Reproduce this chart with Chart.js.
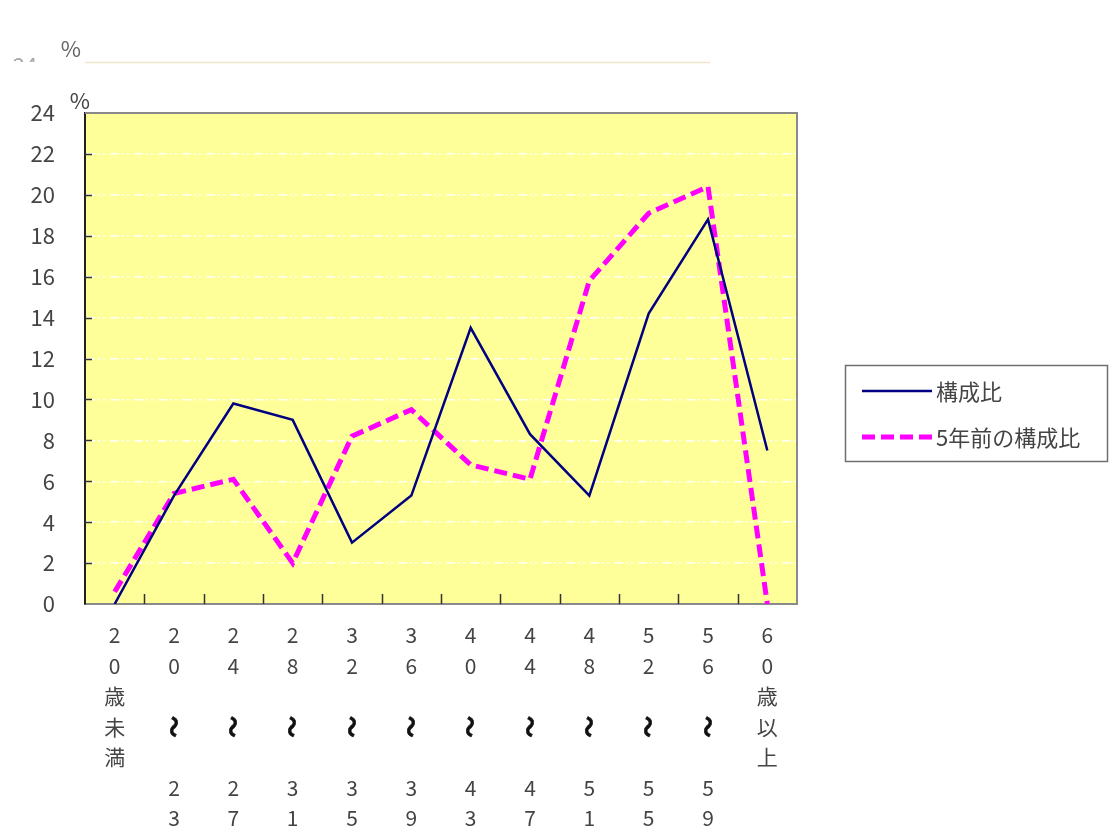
<!DOCTYPE html>
<html>
<head>
<meta charset="utf-8">
<script src="https://cdn.jsdelivr.net/npm/chart.js@4/dist/chart.umd.min.js"></script>
<style>
  html, body { margin: 0; padding: 0; background: #ffffff; }
  #wrap { width: 1110px; height: 829px; position: relative; }
</style>
</head>
<body>
<div id="wrap"><canvas id="c" width="1110" height="829"></canvas></div>
<script>
// 年齢階級
const ageGroups = ['20歳未満', '20～23', '24～27', '28～31', '32～35', '36～39',
                   '40～43', '44～47', '48～51', '52～55', '56～59', '60歳以上'];
// 構成比（%）
const currentShare = [0, 5.3, 9.8, 9.0, 3.0, 5.3, 13.5, 8.3, 5.3, 14.2, 18.8, 7.5];
// 5年前の構成比（%）
const shareFiveYearsAgo = [0.6, 5.4, 6.1, 2.0, 8.2, 9.5, 6.8, 6.1, 15.8, 19.1, 20.4, 0];
const seriesNames = ['構成比', '5年前の構成比'];
const yMin = 0, yMax = 24, yStep = 2;

const FONT = "'Noto Sans CJK JP', 'DejaVu Sans', sans-serif";
const TEXT = '#444444';
const X_PAD = 16;        // 軸から最初の行までの余白
const X_LINE = 30.5;     // 縦書きラベルの行送り
const WAVE_ROW = 3;      // 「～」を置く行

// 縦書きラベル：「20～23」は 2 / 0 / (～) / 2 / 3 に分けて並べる。
// 「～」は縦向きに回転させて別に描く（空行3つ分の中央）。
function verticalLabel(s) {
  const parts = s.split('～');
  if (parts.length === 2) {
    return [...parts[0].split(''), '', '', '', ...parts[1].split('')];
  }
  return s.split('');
}

const frameAndLegend = {
  id: 'frameAndLegend',
  beforeDraw(chart) {
    const { ctx, chartArea: a } = chart;
    ctx.save();
    ctx.fillStyle = '#ffff99';
    ctx.fillRect(a.left, a.top, a.right - a.left, a.bottom - a.top);
    ctx.restore();
  },
  afterDraw(chart) {
    const { ctx, chartArea: a, scales } = chart;
    const x = scales.x, y = scales.y;
    ctx.save();

    // 枠（上・右）
    ctx.strokeStyle = '#8a8a8a';
    ctx.lineWidth = 2;
    ctx.beginPath();
    ctx.moveTo(a.left, a.top);
    ctx.lineTo(a.right, a.top);
    ctx.lineTo(a.right, a.bottom);
    ctx.stroke();

    // 内向きの目盛り
    ctx.strokeStyle = '#333333';
    ctx.lineWidth = 1.5;
    ctx.beginPath();
    for (let v = yMin + yStep; v < yMax; v += yStep) {
      const py = Math.round(y.getPixelForValue(v)) + 0.5;
      ctx.moveTo(a.left, py);
      ctx.lineTo(a.left + 7, py);
    }
    for (let i = 1; i < ageGroups.length; i++) {
      const px = Math.round((x.getPixelForValue(i - 1) + x.getPixelForValue(i)) / 2) + 0.5;
      ctx.moveTo(px, a.bottom);
      ctx.lineTo(px, a.bottom - 10);
    }
    ctx.stroke();

    // 縦向きの「～」
    const waveY = x.top + X_PAD + X_LINE / 2 + WAVE_ROW * X_LINE;
    ageGroups.forEach((g, i) => {
      if (g.indexOf('～') < 0) return;
      const px = x.getPixelForValue(i);
      ctx.save();
      ctx.translate(px, waveY);
      ctx.rotate(Math.PI / 2);
      ctx.font = 'bold 22px ' + FONT;
      ctx.fillStyle = '#111111';
      ctx.strokeStyle = '#111111';
      ctx.lineWidth = 0.6;
      ctx.textAlign = 'center';
      ctx.textBaseline = 'middle';
      ctx.fillText('～', 0, 0);
      ctx.strokeText('～', 0, 0);
      ctx.restore();
    });

    // 単位
    ctx.fillStyle = TEXT;
    ctx.font = '22px ' + FONT;
    ctx.textAlign = 'center';
    ctx.textBaseline = 'middle';
    ctx.fillText('%', 80, 101);

    // 上側に見えている別グラフの一部
    ctx.fillStyle = '#666666';
    ctx.fillText('%', 71, 49);
    ctx.save();
    ctx.beginPath();
    ctx.rect(0, 0, 60, 62);
    ctx.clip();
    ctx.fillStyle = '#a8a8a8';
    ctx.fillText('24', 25, 66);
    ctx.restore();
    ctx.strokeStyle = '#efe6c8';
    ctx.lineWidth = 1.5;
    ctx.beginPath();
    ctx.moveTo(85, 62.5);
    ctx.lineTo(710, 62.5);
    ctx.stroke();

    // 凡例
    ctx.strokeStyle = '#707070';
    ctx.lineWidth = 1.5;
    ctx.strokeRect(845.5, 365.5, 262, 96);
    const rows = [391, 437];
    chart.data.datasets.forEach((ds, i) => {
      const ly = rows[i];
      ctx.strokeStyle = ds.borderColor;
      ctx.lineWidth = ds.borderWidth;
      ctx.setLineDash(ds.borderDash || []);
      ctx.lineCap = 'butt';
      ctx.beginPath();
      ctx.moveTo(862, ly);
      ctx.lineTo(932, ly);
      ctx.stroke();
      ctx.setLineDash([]);
      ctx.fillStyle = TEXT;
      ctx.font = '22px ' + FONT;
      ctx.textAlign = 'left';
      ctx.textBaseline = 'middle';
      ctx.fillText(ds.label, 936, ly + 1);
    });
    ctx.restore();
  }
};

new Chart(document.getElementById('c'), {
  type: 'line',
  data: {
    labels: ageGroups.map(verticalLabel),
    datasets: [
      {
        label: seriesNames[0],
        data: currentShare,
        borderColor: '#000080',
        borderWidth: 2.5,
        pointRadius: 0,
        tension: 0,
        fill: false
      },
      {
        label: seriesNames[1],
        data: shareFiveYearsAgo,
        borderColor: '#ff00ff',
        borderWidth: 5,
        borderDash: [13, 6],
        borderCapStyle: 'butt',
        pointRadius: 0,
        tension: 0,
        fill: false
      }
    ]
  },
  options: {
    responsive: false,
    animation: false,
    devicePixelRatio: 1,
    layout: { padding: { left: 0, top: 113, right: 313, bottom: 0 } },
    plugins: { legend: { display: false }, tooltip: { enabled: false } },
    scales: {
      x: {
        type: 'category',
        offset: true,
        grid: { display: false, drawTicks: false },
        border: { display: true, color: '#8a8a8a', width: 2 },
        ticks: {
          autoSkip: false,
          maxRotation: 0,
          minRotation: 0,
          padding: X_PAD,
          color: TEXT,
          font: { family: FONT, size: 21, lineHeight: X_LINE + 'px' }
        },
        afterFit(scale) { scale.height = 225; }
      },
      y: {
        min: yMin,
        max: yMax,
        ticks: {
          stepSize: yStep,
          padding: 30,
          color: TEXT,
          font: { family: FONT, size: 22 }
        },
        grid: {
          drawTicks: false,
          lineWidth: 1.5,
          color: (c) => (c.tick && (c.tick.value === yMin || c.tick.value === yMax)) ? 'rgba(0,0,0,0)' : 'rgba(255,255,255,0.95)'
        },
        border: { display: true, color: '#222222', width: 2, dash: [9, 3, 2, 3, 2, 5] },
        afterFit(scale) { scale.width = 85; }
      }
    }
  },
  plugins: [frameAndLegend]
});
</script>
</body>
</html>
